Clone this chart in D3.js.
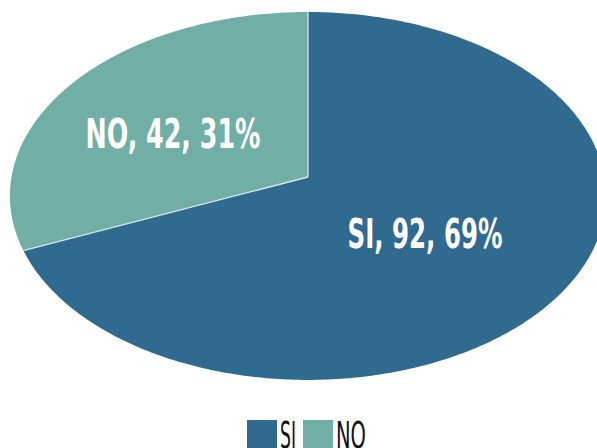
<!DOCTYPE html>
<html>
<head>
<meta charset="utf-8">
<script src="https://cdn.jsdelivr.net/npm/d3@7"></script>
<style>
  body { margin: 0; background: #fff; }
  text { font-family: "Liberation Sans Narrow", "DejaVu Sans Condensed", "Open Sans", sans-serif; }
</style>
</head>
<body>
<svg id="chart" width="597" height="448"></svg>
<script>
// chart data
var categories = ["SI", "NO"];
var counts = [92, 42];
var percents = ["69%", "31%"];
var colors = ["#306a8e", "#70aea6"];

var svg = d3.select("#chart");

// tilted pie: unit circle seen in perspective
var cx = 308, cy = 177;
var A = 296.5, B = 182, k = 0.103;

function project(angle) {
    var u = Math.sin(angle), v = Math.cos(angle);
    var d = 1 + k * v;
    return [cx + A * u / d, cy - B * v / d];
}

var pie_gen = d3.pie().sort(null).value(function (d) { return d; });
var arcs = pie_gen(counts);

var line_gen = d3.line();

function slice_points(a) {
    var pts = [[cx, cy]];
    var n = Math.max(8, Math.ceil((a.endAngle - a.startAngle) * 80));
    for (var i = 0; i <= n; i++) {
        pts.push(project(a.startAngle + (a.endAngle - a.startAngle) * i / n));
    }
    return pts;
}

svg.append("g").selectAll("path")
    .data(arcs)
    .enter().append("path")
    .attr("d", function (a) { return line_gen(slice_points(a)) + "Z"; })
    .attr("fill", function (a, i) { return colors[i]; });

// thin light separators between slices
svg.append("g").selectAll("line")
    .data(arcs)
    .enter().append("line")
    .attr("x1", cx).attr("y1", cy)
    .attr("x2", function (a) { return project(a.startAngle)[0]; })
    .attr("y2", function (a) { return project(a.startAngle)[1]; })
    .attr("stroke", "#d8e6ea")
    .attr("stroke-width", 1.3);

// slice labels
var label_pos = [[425, 248], [173, 148]];
var label_len = [155, 175];
svg.append("g").selectAll("text")
    .data(arcs)
    .enter().append("text")
    .attr("x", function (a, i) { return label_pos[i][0]; })
    .attr("y", function (a, i) { return label_pos[i][1]; })
    .attr("text-anchor", "middle")
    .attr("fill", "#fff")
    .attr("font-weight", "bold")
    .attr("font-size", "41px")
    .attr("textLength", function (a, i) { return label_len[i]; })
    .attr("lengthAdjust", "spacingAndGlyphs")
    .text(function (a, i) { return categories[i] + ", " + counts[i] + ", " + percents[i]; });

// legend
var legend_x = [247, 303];
var legend = svg.append("g").selectAll("g")
    .data(categories)
    .enter().append("g")
    .attr("transform", function (d, i) { return "translate(" + legend_x[i] + ",420)"; });

legend.append("rect")
    .attr("width", 30).attr("height", 30)
    .attr("fill", function (d, i) { return colors[i]; });

legend.append("text")
    .attr("x", 33).attr("y", 28)
    .attr("fill", "#111")
    .attr("font-size", "38px")
    .attr("textLength", function (d, i) { return i === 0 ? 16 : 30; })
    .attr("lengthAdjust", "spacingAndGlyphs")
    .text(function (d) { return d; });
</script>
</body>
</html>
